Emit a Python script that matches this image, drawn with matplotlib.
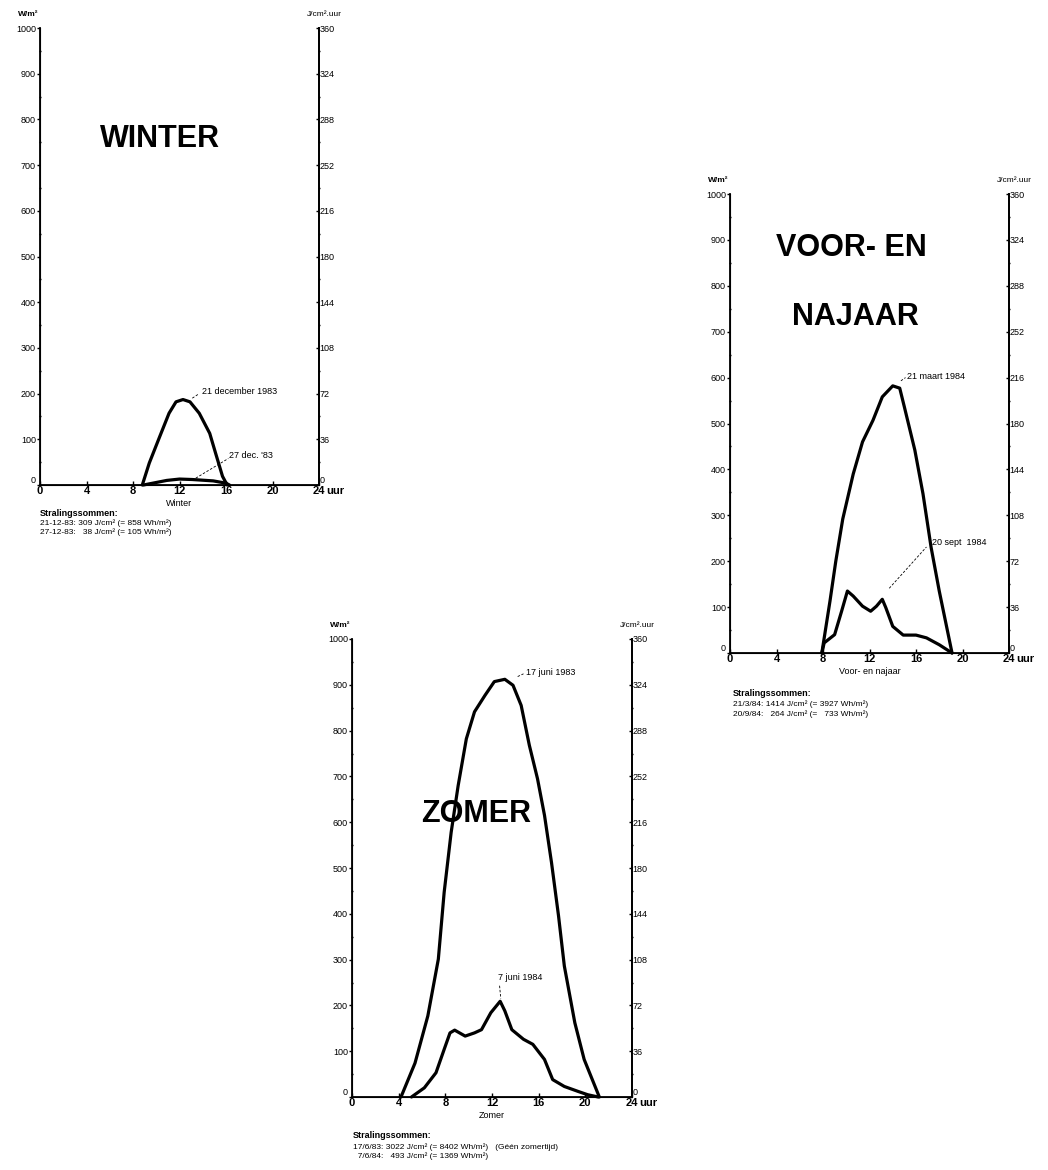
import matplotlib
matplotlib.use("Agg")
import matplotlib.pyplot as plt

plt.rcParams['font.family'] = ['Liberation Sans', 'DejaVu Sans']

# --- data (hour of day, W/m2) ---
winter_hours_a = [8.8, 9.4, 10.3, 11.1, 11.7, 12.3, 12.9, 13.7, 14.6, 15.1, 15.7, 16.1]
winter_vals_a = [0, 48, 106, 157, 182, 187, 182, 157, 113, 70, 19, 0]
winter_hours_b = [8.9, 9.7, 10.9, 12.0, 13.1, 14.9, 16.0, 16.3]
winter_vals_b = [0, 4, 10, 13, 12, 9, 4, 0]

voor_hours_a = [7.9, 8.6, 9.1, 9.7, 10.6, 11.4, 12.3, 13.1, 14.0, 14.6, 15.0, 15.9, 16.6, 17.3, 18.0, 19.1]
voor_vals_a = [0, 113, 200, 292, 390, 460, 507, 558, 582, 577, 536, 442, 347, 230, 135, 0]
voor_hours_b = [7.9, 8.1, 9.0, 9.6, 10.1, 10.6, 11.4, 12.1, 12.6, 13.1, 13.4, 14.0, 14.9, 16.0, 16.9, 18.0, 19.1]
voor_vals_b = [0, 22, 40, 91, 135, 124, 102, 91, 102, 117, 99, 58, 39, 39, 33, 18, 0]

zomer_hours_a = [4.2, 5.4, 6.5, 7.4, 7.9, 8.5, 9.1, 9.8, 10.5, 11.4, 12.2, 13.1, 13.8, 14.5,
                 15.2, 15.9, 16.5, 17.1, 17.7, 18.2, 19.1, 19.9, 21.2]
zomer_vals_a = [0, 74, 177, 301, 447, 578, 680, 782, 841, 877, 907, 912, 899, 855,
                768, 695, 615, 512, 396, 286, 162, 82, 0]
zomer_hours_b = [5.1, 6.2, 7.2, 7.9, 8.4, 8.8, 9.7, 10.5, 11.1, 11.9, 12.7, 13.1, 13.7,
                 14.7, 15.5, 16.5, 17.2, 18.2, 19.4, 20.2, 21.1]
zomer_vals_b = [0, 20, 53, 104, 140, 146, 133, 140, 147, 184, 209, 188, 147,
                126, 115, 82, 38, 23, 12, 5, 0]

hour_ticks = [0, 4, 8, 12, 16, 20, 24]
wm2_ticks = list(range(0, 1001, 100))
jcm_ticks = [0, 36, 72, 108, 144, 180, 216, 252, 288, 324, 360]

W, H = 1048, 1170


def fx(x):
    return x / W


def fy(y):
    return 1 - y / H


def draw_panel(fig, left, top, right, bottom, xlabel, right_label):
    ax = fig.add_axes([fx(left), fy(bottom), fx(right - left), (bottom - top) / H])
    ax.set_xlim(0, 24)
    ax.set_ylim(0, 1000)
    ax.spines['top'].set_visible(False)
    for s in ['left', 'right', 'bottom']:
        ax.spines[s].set_linewidth(1.3)
    ax.set_xticks(hour_ticks)
    ax.set_xticklabels([str(h) for h in hour_ticks], fontsize=8, fontweight='bold')
    ax.tick_params(axis='x', direction='in', length=3, width=1, pad=1)
    ax.set_yticks(wm2_ticks)
    ax.set_yticklabels([str(v) for v in wm2_ticks], fontsize=6.5)
    ax.set_yticks(range(50, 1000, 100), minor=True)
    ax.tick_params(axis='y', direction='out', length=2.5, width=1, pad=0.5)
    ax.tick_params(axis='y', which='minor', direction='inout', length=2, width=1)
    ax.get_yticklabels()[0].set_va('bottom')
    ax.set_xlabel(xlabel, fontsize=6.5, labelpad=2)

    ax2 = ax.twinx()
    ax2.set_ylim(0, 360)
    ax2.spines['top'].set_visible(False)
    ax2.spines['right'].set_linewidth(1.3)
    ax2.set_yticks(jcm_ticks)
    ax2.set_yticklabels([str(v) for v in jcm_ticks], fontsize=6.5)
    ax2.set_yticks(range(18, 360, 36), minor=True)
    ax2.tick_params(axis='y', direction='in', length=2.5, width=1, pad=0.5)
    ax2.tick_params(axis='y', which='minor', direction='inout', length=2, width=1)
    ax2.get_yticklabels()[0].set_va('bottom')

    ax.annotate('uur', xy=(24, 0), xytext=(5.5, -1), textcoords='offset points',
                fontsize=8, fontweight='bold', ha='left', va='top')
    ax.annotate('W/m²', xy=(0, 1), xycoords='axes fraction', xytext=(-1, 7),
                textcoords='offset points', fontsize=6, fontweight='bold', ha='right', va='bottom')
    ax.annotate(right_label, xy=(1, 1), xycoords='axes fraction', xytext=(4, 7),
                textcoords='offset points', fontsize=6, ha='center', va='bottom')
    return ax


def leader(ax, x0, y0, x1, y1):
    ax.plot([x0, x1], [y0, y1], color='black', lw=0.6, ls=(0, (3, 2)))


def curve(ax, hours, vals):
    ax.plot(hours, vals, color='black', lw=2.3, clip_on=False,
            solid_joinstyle='round', solid_capstyle='round')


fig = plt.figure(figsize=(W / 100, H / 100), dpi=100)

# WINTER
ax = draw_panel(fig, 40, 28, 319, 485, 'Winter', 'J/cm².uur')
curve(ax, winter_hours_a, winter_vals_a)
curve(ax, winter_hours_b, winter_vals_b)
ax.text(10.3, 757, 'WINTER', fontsize=22, fontweight='bold', ha='center', va='center')
ax.text(13.9, 205, '21 december 1983', fontsize=6.5, va='center')
leader(ax, 13.1, 190, 13.7, 200)
ax.text(16.3, 65, "27 dec. '83", fontsize=6.5, va='center')
leader(ax, 13.4, 15, 16.2, 58)

fig.text(fx(40), fy(514), 'Stralingssommen:', fontsize=6.5, fontweight='bold', va='center')
fig.text(fx(40), fy(523), '21-12-83: 309 J/cm² (= 858 Wh/m²)', fontsize=6, va='center')
fig.text(fx(40), fy(532), '27-12-83:   38 J/cm² (= 105 Wh/m²)', fontsize=6, va='center')

# VOOR- EN NAJAAR
ax = draw_panel(fig, 730, 194, 1009, 653, 'Voor- en najaar', 'J/cm².uur')
curve(ax, voor_hours_a, voor_vals_a)
curve(ax, voor_hours_b, voor_vals_b)
ax.text(10.4, 883, 'VOOR- EN', fontsize=22, fontweight='bold', ha='center', va='center')
ax.text(10.8, 732, 'NAJAAR', fontsize=22, fontweight='bold', ha='center', va='center')
ax.text(15.25, 603, '21 maart 1984', fontsize=6.5, va='center')
leader(ax, 14.7, 593, 15.1, 600)
ax.text(17.4, 240, '20 sept  1984', fontsize=6.5, va='center')
leader(ax, 13.7, 141, 16.9, 231)

fig.text(fx(733), fy(693), 'Stralingssommen:', fontsize=6.5, fontweight='bold', va='center')
fig.text(fx(733), fy(704), '21/3/84: 1414 J/cm² (= 3927 Wh/m²)', fontsize=6, va='center')
fig.text(fx(733), fy(714), '20/9/84:   264 J/cm² (=   733 Wh/m²)', fontsize=6, va='center')

# ZOMER
ax = draw_panel(fig, 352, 639, 632, 1097, 'Zomer', 'J/cm².uur')
curve(ax, zomer_hours_a, zomer_vals_a)
curve(ax, zomer_hours_b, zomer_vals_b)
ax.text(10.6, 618, 'ZOMER', fontsize=22, fontweight='bold', ha='center', va='center')
ax.text(14.9, 926, '17 juni 1983', fontsize=6.5, va='center')
leader(ax, 14.2, 918, 14.7, 924)
ax.text(12.5, 262, '7 juni 1984', fontsize=6.5, va='center')
leader(ax, 12.65, 243, 12.75, 215)

fig.text(fx(353), fy(1135), 'Stralingssommen:', fontsize=6.5, fontweight='bold', va='center')
fig.text(fx(353), fy(1147), '17/6/83: 3022 J/cm² (= 8402 Wh/m²)   (Géén zomertijd)', fontsize=6, va='center')
fig.text(fx(353), fy(1156), '  7/6/84:   493 J/cm² (= 1369 Wh/m²)', fontsize=6, va='center')

fig.savefig('out.png', dpi=100, facecolor='white')
